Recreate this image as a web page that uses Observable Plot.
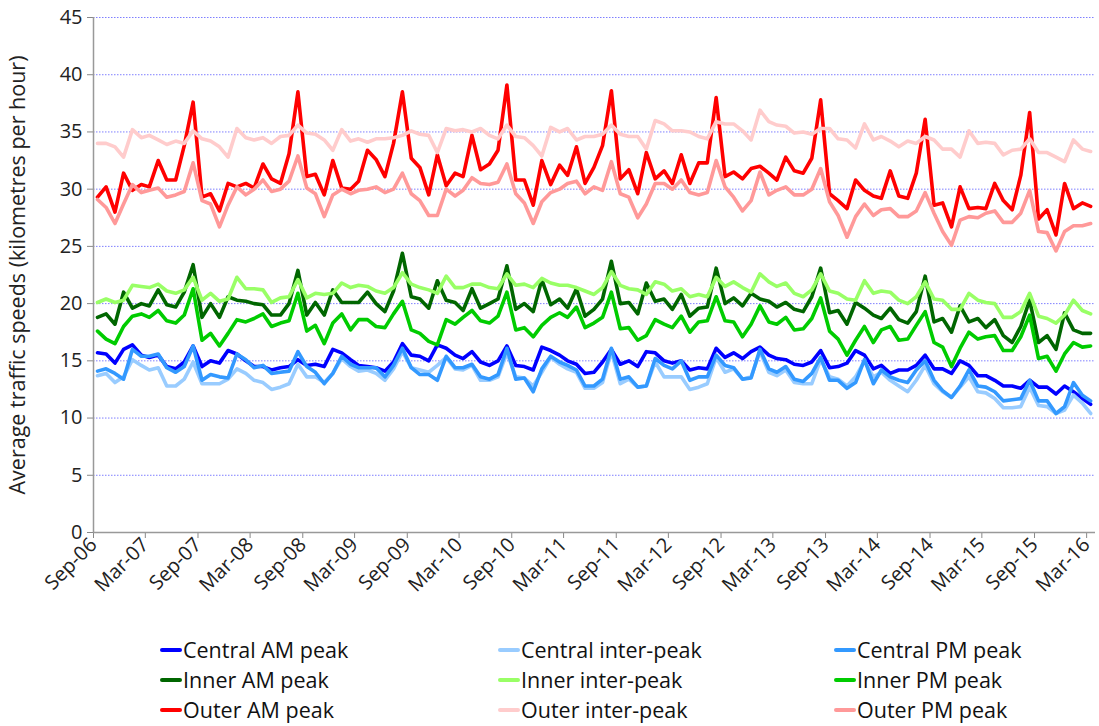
<!DOCTYPE html>
<html>
<head>
<meta charset="utf-8">
<script src="https://cdn.jsdelivr.net/npm/d3@7"></script>
<script src="https://cdn.jsdelivr.net/npm/@observablehq/plot@0.6"></script>
<style>
  html, body { margin: 0; padding: 0; background: #fff; }
  body { width: 1099px; height: 726px; overflow: hidden; font-family: "Open Sans", Lato, sans-serif; }
  #chart { position: absolute; left: 0; top: 0; }
  #legend { position: absolute; left: 0; top: 636px; width: 1099px; }
  .item { position: absolute; display: flex; align-items: center; font-size: 21.5px; color: #111; white-space: nowrap; line-height: 1; }
  .sw { width: 22px; height: 4px; border-radius: 2px; margin-right: 1px; }
</style>
</head>
<body>
<div id="chart"></div>
<div id="legend"></div>
<script>
// Monthly observations, Sep-06 .. Mar-16 (115 months)
const startMonth = new Date(Date.UTC(2006, 8, 1));
const endMonth = new Date(Date.UTC(2016, 3, 1));
const xTickLabels = ["Sep-06","Mar-07","Sep-07","Mar-08","Sep-08","Mar-09","Sep-09","Mar-10","Sep-10","Mar-11","Sep-11","Mar-12","Sep-12","Mar-13","Sep-13","Mar-14","Sep-14","Mar-15","Sep-15","Mar-16"];
const yTicks = [0, 5, 10, 15, 20, 25, 30, 35, 40, 45];

const centralAM = [15.7,15.6,14.8,16.0,16.4,15.5,15.3,15.5,14.5,14.3,14.9,16.3,14.5,15.0,14.8,15.9,15.6,15.0,14.5,14.5,14.2,14.4,14.5,15.1,14.6,14.7,14.5,16.0,15.7,15.1,14.6,14.5,14.4,14.1,14.9,16.5,15.5,15.4,15.0,16.4,16.1,15.5,15.2,15.8,14.9,14.6,15.0,16.3,14.6,14.5,14.2,16.2,15.9,15.5,15.0,14.7,13.9,14.0,14.9,16.0,14.7,15.0,14.5,15.8,15.7,15.0,14.8,15.0,14.2,14.4,14.3,16.1,15.3,15.7,15.2,15.8,16.2,15.5,15.2,15.1,14.7,14.6,14.9,15.9,14.4,14.5,14.8,15.9,15.5,14.3,14.6,13.9,14.2,14.2,14.6,15.5,14.3,14.3,13.9,15.0,14.6,13.7,13.7,13.3,12.8,12.8,12.6,13.3,12.7,12.7,12.1,12.8,12.3,11.7,11.2];
const centralInter = [13.7,13.9,13.1,13.6,15.1,14.6,14.2,14.4,12.8,12.8,13.4,14.9,13.0,13.0,13.0,13.4,14.3,13.9,13.3,13.1,12.5,12.7,13.0,14.7,13.6,13.6,13.1,13.9,15.2,14.5,14.1,14.2,13.9,13.3,14.3,15.8,14.4,14.2,14.0,14.6,15.3,14.3,14.2,14.6,13.3,13.3,13.6,15.7,13.6,13.5,12.8,14.0,15.3,14.7,14.3,14.0,12.6,12.6,13.1,15.8,13.0,13.4,12.7,12.8,14.9,13.6,13.6,13.6,12.5,12.7,13.0,15.3,14.0,14.3,13.4,13.6,15.8,14.0,13.7,14.2,13.1,13.0,13.0,15.1,13.6,13.4,12.8,13.6,15.0,13.6,14.0,13.3,12.8,12.3,13.3,14.6,13.0,12.3,11.8,12.7,13.6,12.3,12.2,11.7,10.9,10.9,11.0,12.7,11.1,11.0,10.4,10.7,12.0,11.3,10.4];
const centralPM = [14.1,14.3,13.9,13.4,16.0,15.4,15.4,15.6,14.4,14.0,14.5,16.3,13.3,13.8,13.6,13.5,15.6,15.1,14.4,14.6,13.9,14.0,14.1,15.8,14.5,14.0,13.0,13.9,15.4,14.7,14.4,14.4,14.4,13.6,14.6,16.1,14.4,13.8,13.8,13.3,15.4,14.4,14.4,14.7,13.6,13.4,13.8,16.1,13.4,13.5,12.3,14.3,15.4,14.9,14.6,14.2,12.8,12.8,13.4,16.1,13.4,13.6,12.7,12.8,15.2,14.6,14.3,15.0,13.3,13.6,13.6,15.5,14.6,14.4,13.4,13.5,16.0,14.3,14.0,14.5,13.4,13.2,13.9,15.3,13.3,13.3,12.6,13.1,15.1,13.0,14.2,13.6,13.3,13.1,14.2,15.0,13.3,12.4,11.8,12.8,14.2,12.8,12.7,12.3,11.5,11.6,11.7,13.3,11.5,11.5,10.4,11.0,13.1,12.0,11.5];
const innerAM = [18.8,19.1,18.2,21.0,19.6,20.0,19.8,21.2,19.9,19.7,21.0,23.4,18.8,20.0,18.8,20.6,20.3,20.2,20.0,19.9,19.0,19.0,20.0,22.9,19.0,20.1,19.0,21.2,20.1,20.1,20.1,21.0,20.0,19.3,21.1,24.4,20.6,20.4,19.6,22.0,20.3,20.1,19.4,21.3,19.6,20.0,20.4,23.3,19.5,20.0,19.3,22.1,19.9,20.4,19.6,21.3,18.9,19.5,20.4,23.7,20.0,20.1,19.1,21.8,20.2,20.4,19.5,20.8,18.9,19.6,19.7,23.1,20.0,20.5,19.8,20.9,20.4,20.2,19.7,20.1,19.5,19.3,20.6,23.1,19.2,19.4,18.2,20.1,19.6,19.0,18.7,19.6,18.6,18.3,19.3,22.4,18.4,18.7,17.5,19.8,18.4,18.7,17.9,18.6,17.2,16.6,18.0,20.3,16.6,17.2,16.0,19.2,17.7,17.4,17.4];
const innerInter = [20.1,20.4,20.1,20.3,21.6,21.5,21.4,21.7,21.1,20.9,21.2,22.3,20.3,20.9,20.2,20.4,22.3,21.3,21.3,21.2,20.1,20.5,20.6,22.1,20.5,20.9,20.8,20.9,21.8,21.4,21.6,21.5,21.1,20.9,21.4,22.7,21.7,21.4,21.2,20.9,22.4,21.4,21.4,21.7,21.7,21.4,21.3,22.6,21.6,21.7,21.4,22.2,21.8,21.6,21.6,21.4,21.1,20.8,21.4,22.8,21.6,21.3,21.2,20.8,21.9,21.7,21.1,21.3,20.6,20.8,20.6,22.3,21.5,21.9,21.4,21.0,22.6,21.9,21.5,21.8,20.9,20.6,21.2,22.6,21.1,20.9,20.4,20.3,22.0,20.9,21.1,21.0,20.3,20.0,20.6,21.9,20.4,20.3,19.5,19.5,20.9,20.3,20.1,20.0,18.8,18.8,19.3,20.9,18.9,18.7,18.3,19.0,20.3,19.4,19.1];
const innerPM = [17.6,16.9,16.5,18.0,18.9,19.1,18.8,19.4,18.5,18.3,19.0,21.3,16.8,17.4,16.3,17.4,18.6,18.4,18.7,19.1,18.0,18.3,18.5,20.9,17.6,18.1,16.5,18.3,19.1,17.7,18.6,18.6,18.0,17.9,19.1,20.2,17.7,17.4,16.7,16.4,18.6,18.2,18.8,19.4,18.5,18.3,18.9,21.0,17.7,17.9,17.1,18.1,18.8,19.2,18.8,19.7,17.9,18.3,18.8,21.0,17.8,17.9,16.8,17.2,18.6,18.2,17.9,18.9,17.5,18.4,18.5,20.6,18.5,18.4,17.1,18.2,19.8,18.4,18.2,18.8,17.7,17.8,18.7,20.5,17.6,16.9,15.5,16.8,18.0,16.6,17.7,18.0,16.8,16.9,18.1,19.3,16.6,16.2,14.5,16.1,17.5,16.9,17.1,17.2,15.9,15.9,17.1,19.0,15.2,15.4,14.1,15.6,16.6,16.2,16.3];
const outerAM = [29.3,30.2,28.0,31.4,29.9,30.4,30.2,32.5,30.8,30.8,33.8,37.6,29.3,29.6,28.1,30.5,30.2,30.5,30.1,32.2,30.9,30.5,33.1,38.5,31.1,31.3,29.5,32.5,30.1,30.0,30.7,33.4,32.6,31.1,34.0,38.5,32.7,31.9,29.5,33.0,30.3,31.4,31.1,34.7,31.7,32.2,33.4,39.1,30.8,30.8,28.6,32.5,30.4,32.1,31.2,33.7,30.5,31.9,33.8,38.6,30.9,31.7,29.6,33.2,30.9,31.6,30.5,33.0,30.5,32.3,32.3,38.0,31.1,31.5,30.9,31.8,32.0,31.4,30.8,32.8,31.6,31.4,32.7,37.8,29.6,29.0,28.3,30.8,29.9,29.4,29.2,31.6,29.4,29.2,31.4,36.1,28.6,28.8,26.7,30.2,28.3,28.4,28.3,30.5,29.0,28.2,31.2,36.7,27.4,28.2,26.0,30.5,28.3,28.8,28.5];
const outerInter = [34.0,34.0,33.7,32.8,35.2,34.5,34.7,34.3,33.9,34.2,34.0,35.1,34.4,34.2,33.7,32.8,35.3,34.5,34.3,34.5,34.0,34.6,34.7,35.6,34.9,34.8,34.3,33.4,35.2,34.2,34.4,34.1,34.4,34.4,34.5,34.7,35.1,34.8,34.7,33.2,35.3,35.1,35.2,35.0,35.3,34.7,34.4,35.6,34.6,34.5,33.8,32.9,35.4,35.0,35.3,34.3,34.6,34.6,34.8,35.6,34.8,34.6,34.6,33.5,36.0,35.7,35.1,35.1,35.0,34.6,34.4,35.9,35.7,35.7,35.1,34.3,36.9,35.9,35.6,35.5,34.9,35.0,34.8,35.3,35.3,34.4,34.3,33.6,35.7,34.3,34.6,34.2,33.7,34.2,34.0,34.6,34.3,33.5,33.5,32.8,35.1,34.0,34.1,34.0,33.0,33.4,33.5,34.4,33.2,33.2,32.8,32.4,34.3,33.5,33.3];
const outerPM = [29.1,28.4,27.0,28.7,30.4,29.7,29.9,30.1,29.3,29.5,29.8,32.3,29.0,28.7,26.7,28.6,30.2,29.5,30.0,30.8,29.8,30.0,30.7,32.9,30.1,29.6,27.6,29.5,30.0,29.6,29.9,30.0,30.2,29.7,30.0,31.4,29.6,29.0,27.7,27.7,30.0,29.4,29.9,31.0,30.5,30.4,30.6,32.2,29.6,28.8,27.0,28.9,29.7,30.0,30.5,30.7,29.6,30.2,29.9,32.4,29.6,29.3,27.5,28.7,30.5,30.5,30.0,30.8,29.7,29.5,29.7,32.5,30.2,29.3,28.1,29.0,31.5,29.5,29.9,30.2,29.5,29.5,30.0,31.8,28.9,27.7,25.8,27.6,28.7,27.7,28.2,28.3,27.6,27.6,28.1,29.7,27.9,26.3,25.1,27.3,27.6,27.5,27.9,28.1,27.1,27.1,27.9,29.9,26.3,26.2,24.6,26.3,26.8,26.8,27.0];

const seriesNames = ["Central AM peak","Central inter-peak","Central PM peak","Inner AM peak","Inner inter-peak","Inner PM peak","Outer AM peak","Outer inter-peak","Outer PM peak"];
const seriesValues = [centralAM, centralInter, centralPM, innerAM, innerInter, innerPM, outerAM, outerInter, outerPM];
const seriesColors = ["#0000ff","#99ccff","#3399ff","#006600","#99ff66","#00cc00","#ff0000","#ffcccc","#ff9999"];

const months = d3.utcMonth.range(startMonth, endMonth);
const pointDates = months.map(m => d3.utcDay.offset(m, 14));
const tickDates = xTickLabels.map((_, i) => d3.utcMonth.offset(startMonth, 6 * i));
const tickLabelMap = new Map(tickDates.map((d, i) => [+d, xTickLabels[i]]));

const rows = seriesNames.flatMap((name, k) =>
  seriesValues[k].map((v, i) => ({series: name, date: pointDates[i], value: v})));

const fontFamily = "'Open Sans', Lato, sans-serif";

const chart = Plot.plot({
  width: 1099,
  height: 620,
  marginLeft: 93,
  marginRight: 4,
  marginTop: 17,
  marginBottom: 88,
  style: {fontFamily, fontSize: "20px", color: "#222", background: "#fff"},
  x: {type: "utc", domain: [startMonth, endMonth]},
  y: {domain: [0, 45]},
  color: {domain: seriesNames, range: seriesColors},
  marks: [
    Plot.gridY(yTicks.filter(d => d > 0), {stroke: "#7f7fff", strokeOpacity: 1, strokeDasharray: "1.5,1.5", strokeWidth: 1}),
    Plot.axisY({ticks: yTicks, tickSize: 6, tickPadding: 5, stroke: "#888", fontSize: 20, label: "Average traffic speeds (kilometres per hour)", labelAnchor: "center", labelArrow: "none", labelOffset: 84}),
    Plot.axisX({ticks: tickDates, tickFormat: d => tickLabelMap.get(+d), tickRotate: -45, tickSize: 6, tickPadding: 3, stroke: "#888", fontSize: 20, label: null}),
    Plot.ruleX([startMonth], {stroke: "#999", strokeWidth: 1.5}),
    Plot.ruleY([0], {stroke: "#999", strokeWidth: 1.5}),
    Plot.lineY(rows, {x: "date", y: "value", z: "series", stroke: "series", strokeWidth: 3.6, strokeLinejoin: "round", strokeLinecap: "round"})
  ]
});
// enlarge the y-axis title slightly
chart.querySelectorAll("g[aria-label='y-axis label'] text").forEach(t => t.setAttribute("font-size", "21.5"));
document.getElementById("chart").appendChild(chart);

// legend (3 columns x 3 rows)
const legend = document.getElementById("legend");
const colX = [160, 498, 834];
const rowY = [3, 33, 63];
seriesNames.forEach((name, k) => {
  const item = document.createElement("div");
  item.className = "item";
  item.style.left = colX[k % 3] + "px";
  item.style.top = rowY[Math.floor(k / 3)] + "px";
  const sw = document.createElement("span");
  sw.className = "sw";
  sw.style.background = seriesColors[k];
  const label = document.createElement("span");
  label.textContent = name;
  item.appendChild(sw);
  item.appendChild(label);
  legend.appendChild(item);
});
</script>
</body>
</html>
